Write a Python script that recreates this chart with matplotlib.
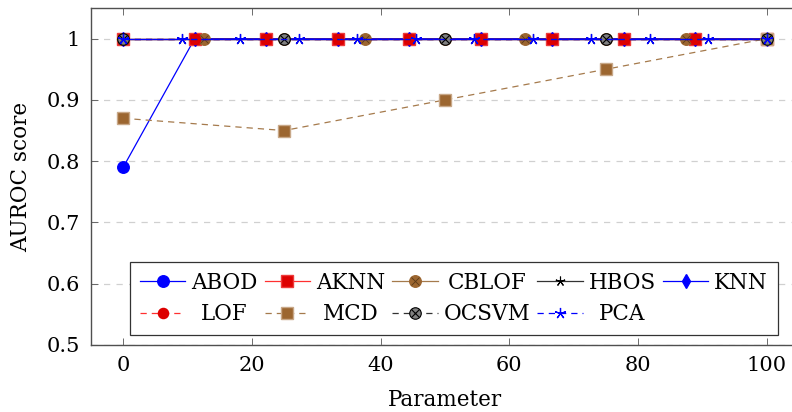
import matplotlib
matplotlib.use("Agg")
import matplotlib.pyplot as plt
from matplotlib.legend_handler import HandlerTuple

# ---- data ----
x_nine = [0, 11.11, 22.22, 33.33, 44.44, 55.56, 66.67, 77.78, 88.89, 100]
x_eighth = [0, 12.5, 25, 37.5, 50, 62.5, 75, 87.5, 100]
x_quarter = [0, 25, 50, 75, 100]
x_eleven = [0, 9.09, 18.18, 27.27, 36.36, 45.45, 54.55, 63.64, 72.73, 81.82, 90.91, 100]

abod = [0.79, 1, 1, 1, 1, 1, 1, 1, 1, 1]
aknn = [1, 1, 1, 1, 1, 1, 1, 1, 1, 1]
cblof = [1, 1, 1, 1, 1, 1, 1, 1, 1]
hbos = [1, 1, 1, 1, 1, 1, 1, 1, 1, 1, 1, 1]
knn = [1, 1, 1, 1, 1, 1, 1, 1, 1, 1]
lof = [1, 1, 1, 1, 1, 1, 1, 1, 1, 1]
mcd = [0.87, 0.85, 0.90, 0.95, 1.0]
ocsvm = [1, 1, 1, 1, 1]
pca = [1, 1, 1, 1, 1, 1, 1, 1, 1, 1, 1, 1]

xticks = [0, 20, 40, 60, 80, 100]
yticks = [0.5, 0.6, 0.7, 0.8, 0.9, 1.0]
ytick_labels = ["0.5", "0.6", "0.7", "0.8", "0.9", "1"]
names = ['ABOD', 'AKNN', 'CBLOF', 'HBOS', 'KNN', 'LOF', 'MCD', 'OCSVM', 'PCA']

plt.rcParams['font.family'] = ['DejaVu Serif']
plt.rcParams['font.size'] = 15

fig = plt.figure(figsize=(7.92, 4.12), dpi=100)
ax = fig.add_axes([91/792, 67/412, 708/792, 337/412])

BROWN = '#9c6630'
BROWN_L = '#a57a4c'
star = (5, 2, 0)
lw = 0.9
ds = (0, (5, 4))

h = {}
h['ABOD'] = ax.plot(x_nine, abod, color='blue', lw=lw, marker='o', ms=8.3, mec='blue', mfc='blue', zorder=3)[0]
h['AKNN'] = ax.plot(x_nine, aknn, color='#ff3030', lw=lw, marker='s', ms=8, mec='#ee3a3a', mfc='#dd0000', zorder=3)[0]
c1 = ax.plot(x_eighth, cblof, color=BROWN_L, lw=lw, marker='o', ms=8.3, mec=BROWN, mfc=BROWN, zorder=3)[0]
c2 = ax.plot(x_eighth, cblof, ls='none', marker='x', ms=5.5, mew=0.6, mec='#5a3a18', zorder=3)[0]
h['CBLOF'] = (c1, c2)
h['HBOS'] = ax.plot(x_eleven, hbos, color='#333333', lw=lw, marker=star, ms=7, mew=0.8, mec='black', zorder=3)[0]
h['KNN'] = ax.plot(x_nine, knn, color='blue', lw=lw, marker='d', ms=7, mec='blue', mfc='blue', zorder=3)[0]
h['LOF'] = ax.plot(x_nine, lof, color='#ff3030', lw=lw, ls=ds, marker='o', ms=7.3, mec='#dd0000', mfc='#dd0000', zorder=3)[0]
h['MCD'] = ax.plot(x_quarter, mcd, color=BROWN_L, lw=lw, ls=ds, marker='s', ms=8, mec='#c8a888', mfc=BROWN, zorder=3)[0]
o1 = ax.plot(x_quarter, ocsvm, color='#333333', lw=lw, ls=ds, marker='o', ms=8.3, mec='black', mfc='#808080', mew=0.8, zorder=3)[0]
o2 = ax.plot(x_quarter, ocsvm, ls='none', marker='x', ms=5.5, mew=0.8, mec='black', zorder=3)[0]
h['OCSVM'] = (o1, o2)
h['PCA'] = ax.plot(x_eleven, pca, color='blue', lw=lw, ls=ds, marker=star, ms=8, mew=0.9, mec='blue', zorder=3)[0]

ax.set_xlim(-5, 105)
ax.set_ylim(0.5, 1.05)
ax.set_xticks(xticks)
ax.set_yticks(yticks)
ax.set_yticklabels(ytick_labels)
ax.tick_params(direction='in', top=True, right=True, length=5, width=0.6, color='#555555', pad=8)
ax.yaxis.grid(True, ls=(0, (5, 5)), color='#d0d0d0', lw=0.9)
ax.set_axisbelow(True)
for s in ax.spines.values():
    s.set_color('#505050')
    s.set_linewidth(1.0)

ax.set_xlabel('Parameter', labelpad=10, fontsize=15.5)
ax.set_ylabel('AUROC score', labelpad=10, fontsize=15.5)

# legend: matplotlib fills column-major, reorder to show row-major
ncol = 5
nrow = 2
order = []
for c in range(ncol):
    for r in range(nrow):
        i = r * ncol + c
        if i < len(names):
            order.append(i)
leg = ax.legend([h[names[i]] for i in order], [names[i] for i in order], ncol=ncol,
                loc='lower right', bbox_to_anchor=(0.97, 0.03), borderaxespad=0,
                frameon=True, fancybox=False, edgecolor='#333333', framealpha=1,
                fontsize=15.5, handlelength=2.1, handletextpad=0.28,
                columnspacing=0.33, borderpad=0.45, labelspacing=0.45,
                handler_map={tuple: HandlerTuple(ndivide=1)})
leg.get_frame().set_linewidth(0.9)

# center the label text within each legend column (as in the reference)
fig.canvas.draw()
rend = fig.canvas.get_renderer()
texts = leg.get_texts()
widths = [t.get_window_extent(rend).width for t in texts]
k = 0
for c in range(ncol):
    idx = []
    for r in range(nrow):
        if r * ncol + c < len(names):
            idx.append(k)
            k += 1
    wmax = max(widths[j] for j in idx)
    for j in idx:
        texts[j].set_x((wmax - widths[j]) / 2)

fig.savefig('out.png', dpi=100)
